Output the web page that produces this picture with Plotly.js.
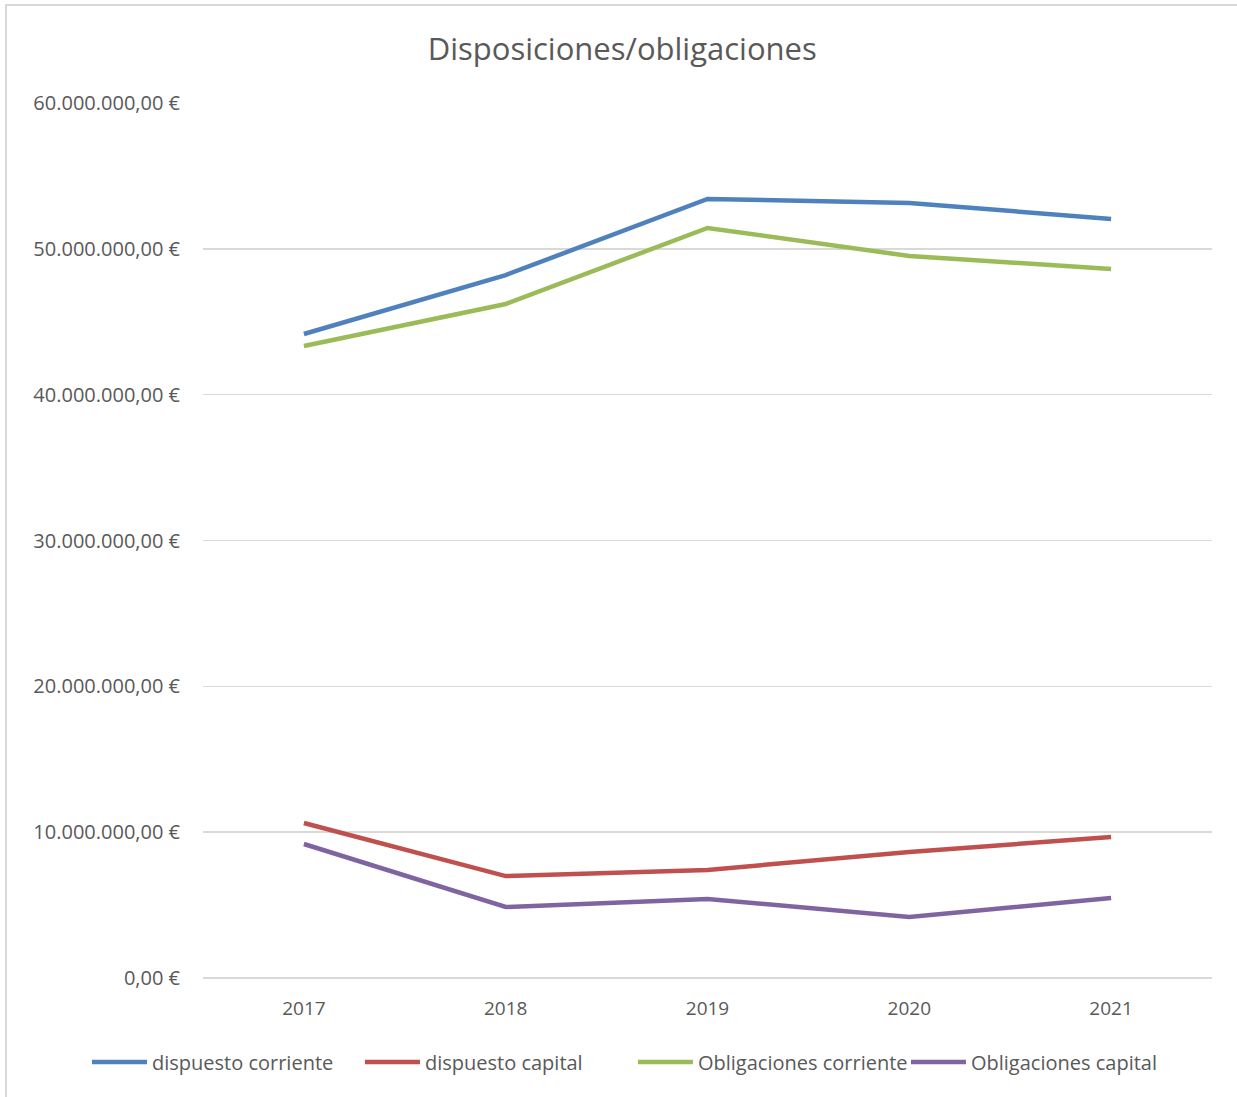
<!DOCTYPE html>
<html>
<head>
<meta charset="utf-8">
<script src="https://cdn.plot.ly/plotly-3.0.1.min.js"></script>
<style>
  html, body { margin: 0; padding: 0; background: #fff; }
  #frame { position: absolute; left: 5px; top: 4px; width: 1240px; height: 1100px; border: 2px solid #d9d9d9; box-sizing: border-box; pointer-events: none; z-index: 5; }
  #chart { position: absolute; left: 0; top: 0; width: 1237px; height: 1097px; }
</style>
</head>
<body>
<div id="chart"></div>
<div id="frame"></div>
<script>
const years = ['2017', '2018', '2019', '2020', '2021'];
const dispuestoCorriente = [44160000, 48200000, 53420000, 53140000, 52050000];
const dispuestoCapital = [10630000, 6990000, 7410000, 8640000, 9670000];
const obligacionesCorriente = [43340000, 46220000, 51430000, 49510000, 48620000];
const obligacionesCapital = [9190000, 4870000, 5420000, 4180000, 5490000];
const tickValues = [0, 10000000, 20000000, 30000000, 40000000, 50000000, 60000000];
const tickLabels = ['0,00 €', '10.000.000,00 €', '20.000.000,00 €', '30.000.000,00 €', '40.000.000,00 €', '50.000.000,00 €', '60.000.000,00 €'];

const font = 'Open Sans, Noto Sans, sans-serif';
function tr(name, y, color) {
  return { x: years, y: y, name: name, type: 'scatter', mode: 'lines',
    line: { color: color, width: 4.5 }, hoverinfo: 'skip' };
}
const data = [
  tr('dispuesto corriente', dispuestoCorriente, '#4F81BD'),
  tr('dispuesto capital', dispuestoCapital, '#C0504D'),
  tr('Obligaciones corriente', obligacionesCorriente, '#9BBB59'),
  tr('Obligaciones capital', obligacionesCapital, '#8064A2')
];
const layout = {
  width: 1237, height: 1097,
  margin: { l: 203, r: 25, t: 103, b: 119 },
  paper_bgcolor: '#fff', plot_bgcolor: '#fff',
  font: { family: font, color: '#595959', size: 20 },
  title: { text: 'Disposiciones/obligaciones', x: 0.503, xanchor: 'center', y: 0.955, yanchor: 'middle',
    font: { family: font, size: 31, color: '#595959' } },
  xaxis: { type: 'category', range: [-0.5, 4.5], showgrid: false, zeroline: false,
    showline: false, ticks: '', tickfont: { size: 19, color: '#595959' }, ticklabelstandoff: 17 },
  yaxis: { range: [0, 60000000], tickvals: tickValues, ticktext: tickLabels, showgrid: true,
    gridcolor: '#d9d9d9', gridwidth: 1.5, zeroline: true, zerolinecolor: '#d9d9d9', zerolinewidth: 1.5,
    showline: false, ticks: '', tickfont: { size: 20, color: '#595959' }, ticklabelstandoff: 22 },
  showlegend: true,
  legend: { orientation: 'h', x: -0.115, xanchor: 'left', y: -0.096, yanchor: 'middle',
    entrywidth: 203, entrywidthmode: 'pixels',
    font: { size: 20, color: '#595959' }, itemwidth: 55, tracegroupgap: 0 }
};
Plotly.newPlot('chart', data, layout, { displayModeBar: false, staticPlot: true });
</script>
</body>
</html>
